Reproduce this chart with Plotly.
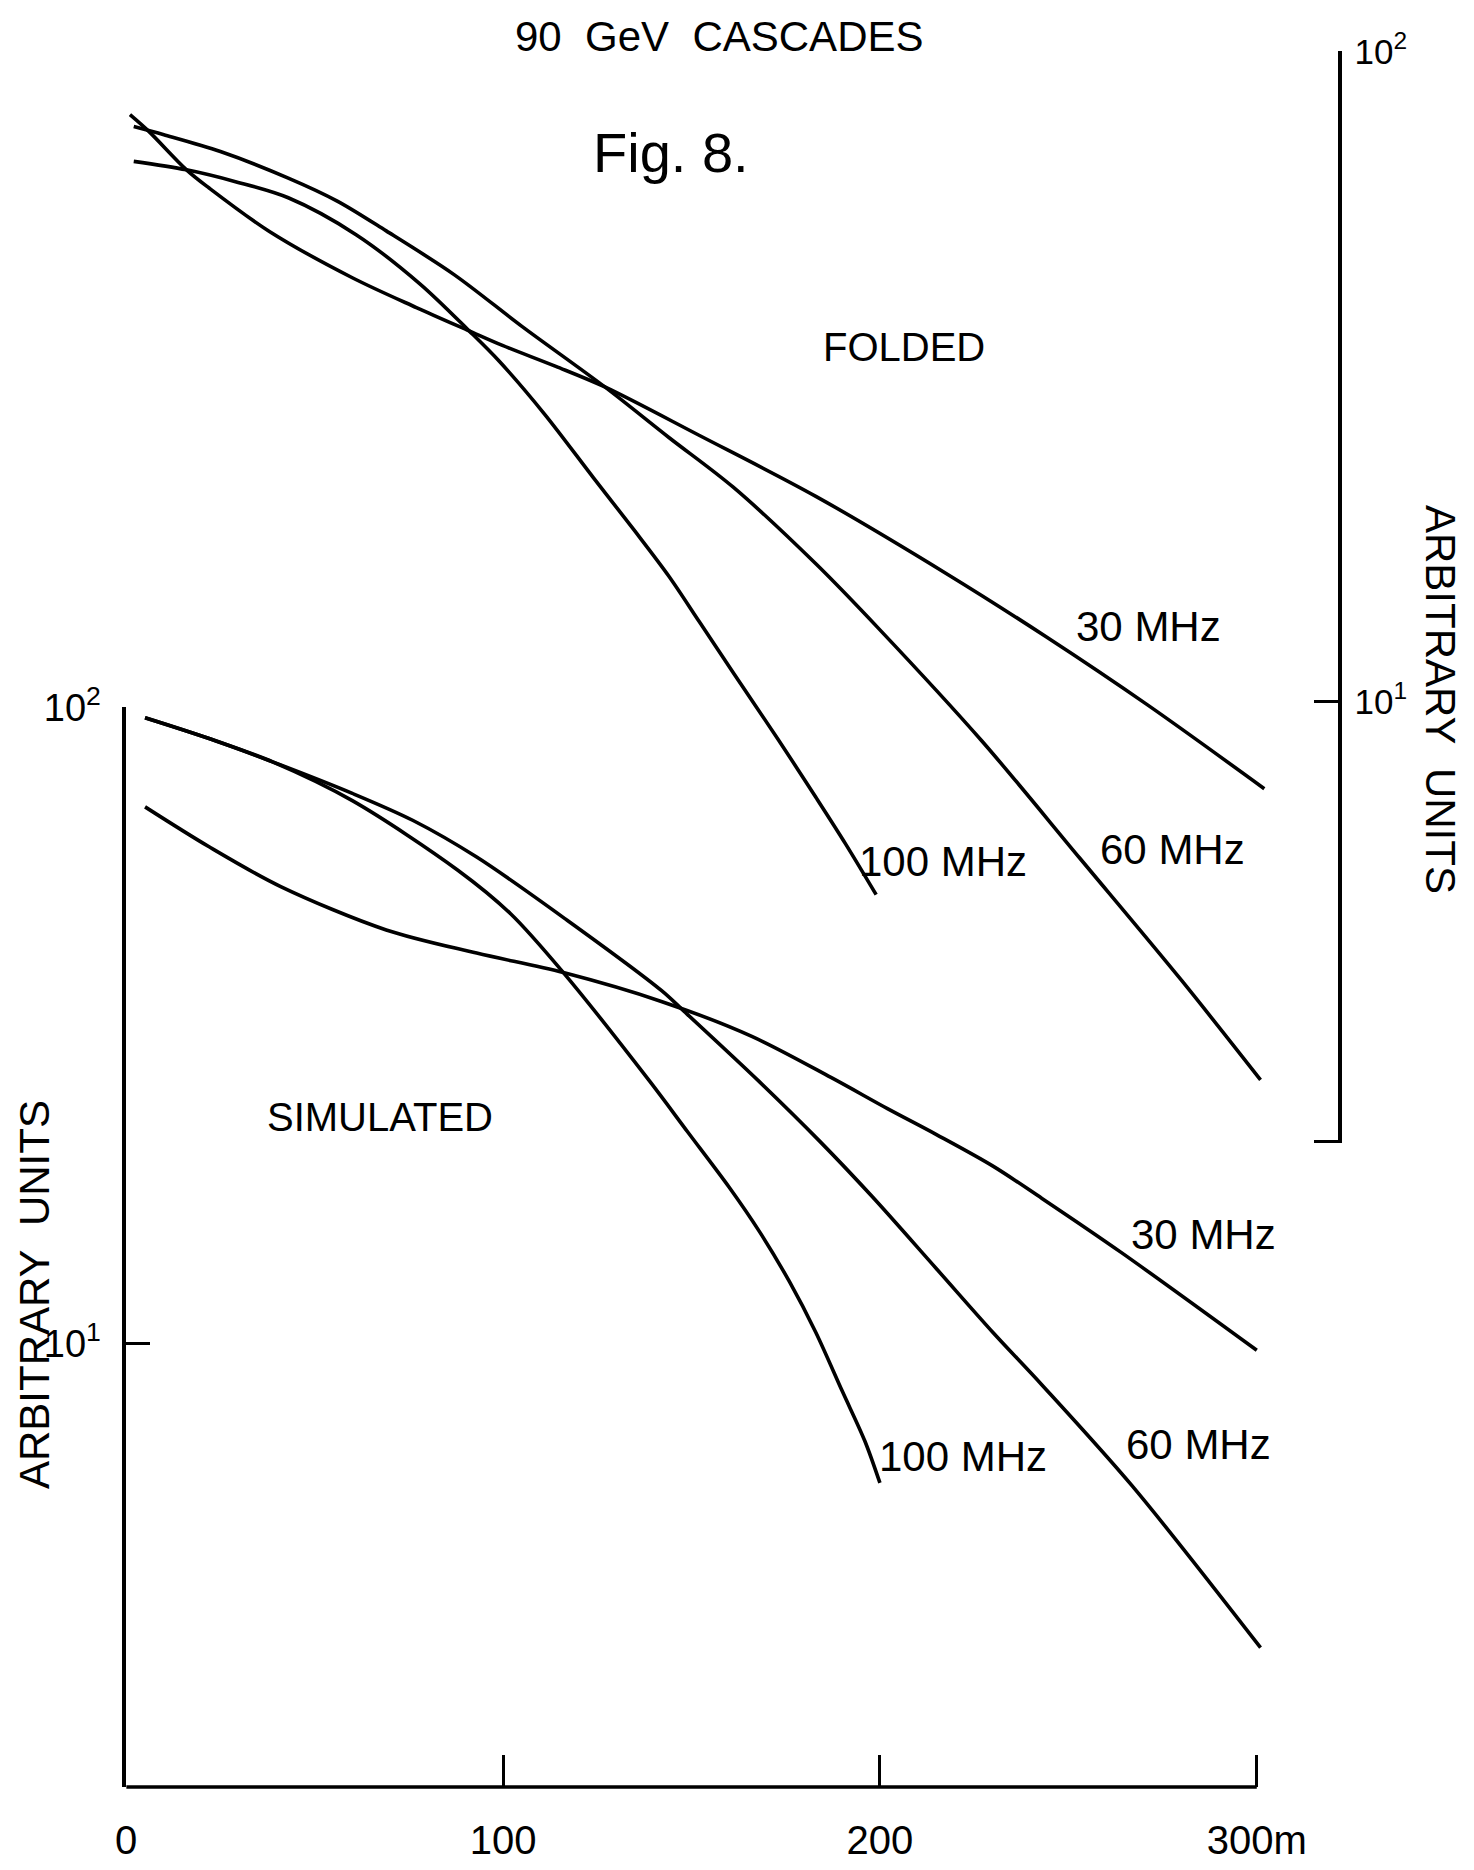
import plotly.graph_objects as go

# ---------------- data (distance in m, amplitude in arbitrary units) ----------------
# FOLDED (upper panel, right-hand log axis)
fold_30_x = [1, 6, 16, 22, 38, 60, 77, 91, 100, 114, 127, 152, 183, 218, 244, 271, 302]
fold_30_y = [80.0, 75.4, 65.8, 61.7, 52.9, 44.9, 40.4, 37.2, 35.3, 32.8, 30.5, 25.7, 20.7, 15.7, 12.6, 9.89, 7.35]

fold_60_x = [2, 10, 25, 43, 56, 69, 87, 105, 127, 144, 161, 183, 200, 227, 253, 280, 301]
fold_60_y = [76.7, 74.5, 70.2, 63.9, 58.9, 53.0, 45.4, 37.8, 30.5, 25.5, 21.4, 16.3, 12.9, 8.71, 5.75, 3.73, 2.62]

fold_100_x = [2, 16, 29, 43, 61, 78, 91, 99, 111, 124, 135, 144, 152, 161, 173, 183, 191, 199]
fold_100_y = [67.8, 65.8, 63.1, 59.6, 52.3, 43.9, 37.2, 33.4, 27.7, 22.1, 18.3, 15.6, 13.3, 11.1, 8.75, 7.13, 6.03, 5.05]

# SIMULATED (lower panel, left-hand log axis)
sim_30_x = [5, 22, 41, 69, 93, 116, 142, 166, 187, 202, 215, 230, 243, 264, 300]
sim_30_y = [69.8, 60.4, 52.3, 44.7, 41.1, 38.3, 34.5, 30.4, 26.2, 23.4, 21.3, 19.0, 16.9, 13.9, 9.75]

sim_60_x = [5, 22, 39, 60, 76, 93, 117, 142, 148, 168, 184, 198, 215, 230, 243, 267, 301]
sim_60_y = [96.4, 89.4, 82.1, 73.3, 66.5, 58.2, 46.3, 35.9, 33.3, 25.8, 20.8, 17.0, 13.1, 10.4, 8.6, 5.96, 3.32]

sim_100_x = [5, 22, 39, 60, 88, 102, 116, 139, 149, 160, 168, 176, 183, 190, 196, 200]
sim_100_y = [96.4, 89.4, 82.1, 71.4, 55.5, 47.4, 38.3, 25.8, 21.5, 17.6, 15.0, 12.5, 10.4, 8.41, 7.02, 6.03]

x_tick_vals = [0, 100, 200, 300]
x_tick_text = ["0", "100", "200", "300m"]
y_tick_vals = [10, 100]
y_tick_text = ["10<sup>1</sup>", "10<sup>2</sup>"]

# ---------------- figure ----------------
W, H = 1474, 1870
OFF = 7  # page offset compensation (px)
FONT = "Liberation Sans Narrow, Liberation Sans, Arial, sans-serif"
LINE = dict(color="black", width=3.6, shape="spline", smoothing=0.9)

fig = go.Figure()
for xs, ys in [(fold_30_x, fold_30_y), (fold_60_x, fold_60_y), (fold_100_x, fold_100_y)]:
    fig.add_trace(go.Scatter(x=xs, y=ys, mode="lines", line=LINE, xaxis="x2", yaxis="y2",
                             showlegend=False, hoverinfo="skip"))
for xs, ys in [(sim_30_x, sim_30_y), (sim_60_x, sim_60_y), (sim_100_x, sim_100_y)]:
    fig.add_trace(go.Scatter(x=xs, y=ys, mode="lines", line=LINE, xaxis="x", yaxis="y",
                             showlegend=False, hoverinfo="skip"))

def px(fx):
    return (fx - OFF) / W

def py(fy):
    return 1 - (fy - OFF) / H

x_dom = [px(125.2), px(1336.8)]
x_rng = [0, 321.5]
bot_dom = [py(1786), py(706)]
top_dom = [py(1141.8), py(50)]
top_low = 0.3236

fig.update_layout(
    width=W, height=H,
    margin=dict(l=0, r=0, t=0, b=0, pad=0, autoexpand=False),
    paper_bgcolor="white", plot_bgcolor="rgba(0,0,0,0)",
    font=dict(family=FONT, color="black"),
    xaxis=dict(domain=x_dom, range=x_rng, anchor="y", showgrid=False, zeroline=False, automargin=False,
               showline=False, ticks="inside", ticklen=32, tickwidth=3, tickcolor="black",
               tickvals=x_tick_vals, ticktext=x_tick_text, ticklabelstandoff=26,
               tickfont=dict(size=40, family=FONT)),
    yaxis=dict(domain=bot_dom, type="log", range=[0.302, 2.001], anchor="x", automargin=False,
               showgrid=False, zeroline=False, showline=True, linecolor="black", linewidth=3.5,
               ticks="inside", ticklen=24, tickwidth=3, tickcolor="black",
               tickvals=y_tick_vals, ticktext=y_tick_text, ticklabelstandoff=14,
               tickfont=dict(size=38, family=FONT)),
    xaxis2=dict(domain=x_dom, range=x_rng, anchor="y2", matches="x", visible=False, automargin=False),
    yaxis2=dict(domain=top_dom, type="log", range=[top_low - 0.002, 2.001], anchor="x2", side="right",
                automargin=False,
                showgrid=False, zeroline=False, showline=True, linecolor="black", linewidth=3.5,
                ticks="inside", ticklen=24, tickwidth=3, tickcolor="black",
                tickvals=[10 ** top_low] + y_tick_vals, ticktext=[""] + y_tick_text,
                ticklabelstandoff=6, tickfont=dict(size=35, family=FONT)),
)

# bottom x-axis line, from 0 to 300 m
fig.add_shape(type="line", xref="x", yref="paper", x0=0, x1=300, y0=bot_dom[0], y1=bot_dom[0],
              line=dict(color="black", width=3.5))

def txt(s, fx, fy, size, angle=0):
    fig.add_annotation(text=s, x=px(fx), y=py(fy), xref="paper", yref="paper",
                       showarrow=False, textangle=angle, xanchor="center", yanchor="middle",
                       font=dict(size=size, family=FONT, color="black"))

txt("90&nbsp;&nbsp;GeV&nbsp;&nbsp;CASCADES", 718, 36, 42)
txt("Fig. 8.", 670, 151, 56)
txt("FOLDED", 903, 346, 40)
txt("SIMULATED", 379, 1116, 40)
txt("30 MHz", 1147, 625, 42)
txt("100 MHz", 942, 860, 42)
txt("60 MHz", 1171, 848, 42)
txt("30 MHz", 1202, 1233, 42)
txt("100 MHz", 962, 1455, 42)
txt("60 MHz", 1197, 1443, 42)
txt("ARBITRARY&nbsp;&nbsp;UNITS", 33, 1294, 42, -90)
txt("ARBITRARY&nbsp;&nbsp;UNITS", 1440, 698, 42, 90)

fig.write_html("out.html")
